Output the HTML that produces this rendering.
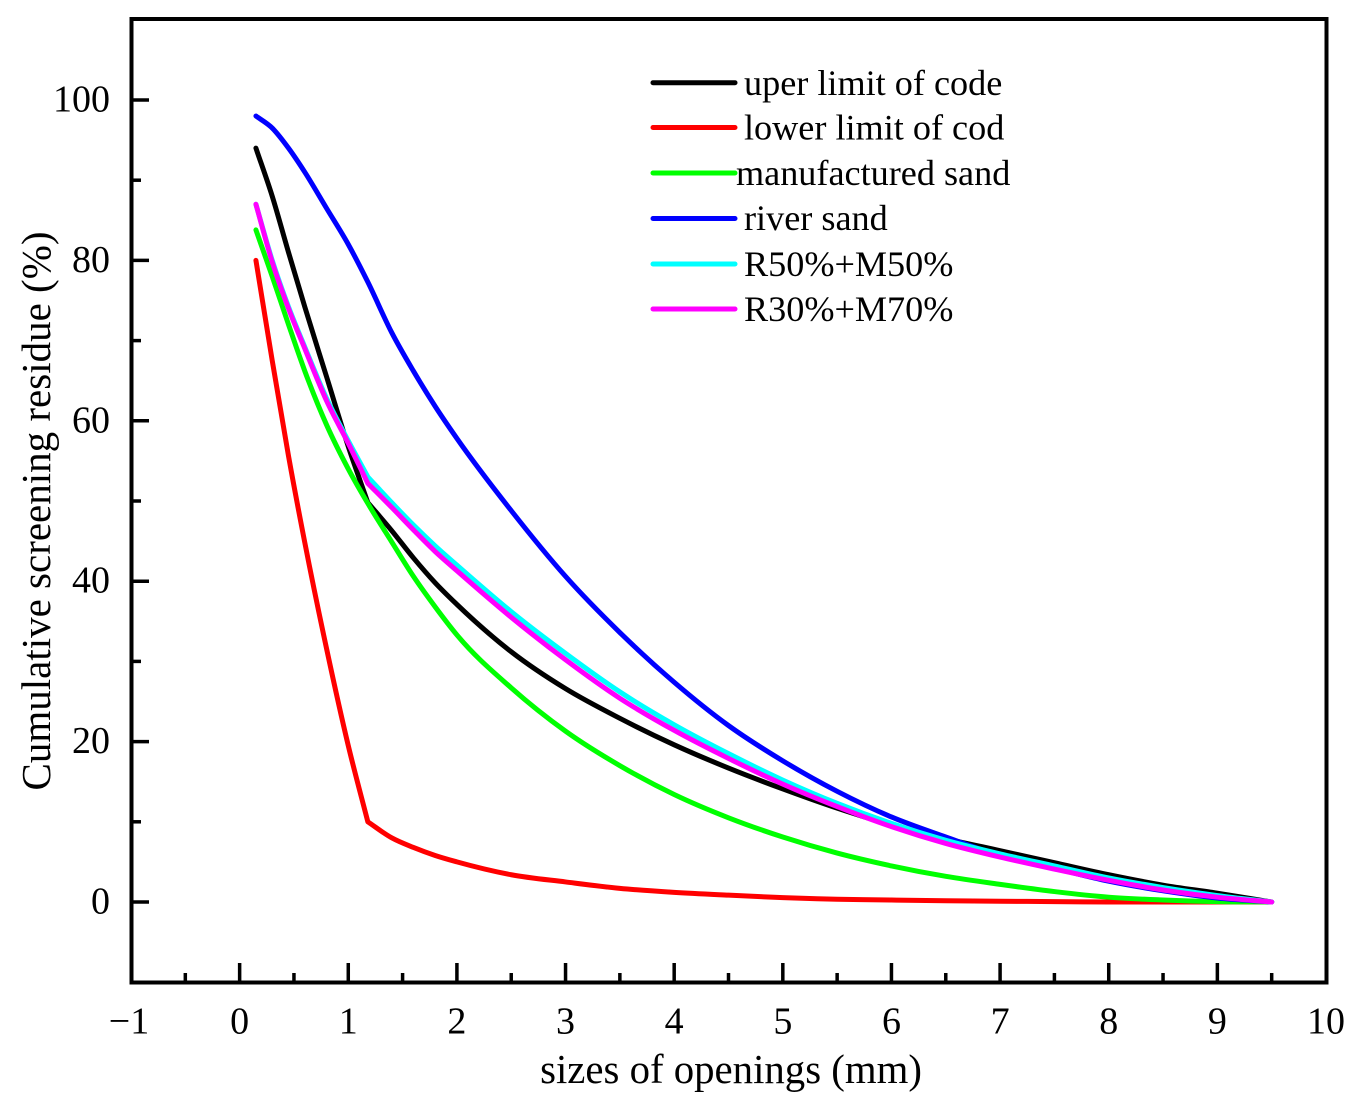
<!DOCTYPE html>
<html lang="en">
<head>
<meta charset="utf-8">
<title>Cumulative screening residue chart</title>
<style>
html,body{margin:0;padding:0;background:#fff;}
svg{display:block;}
text{font-family:"Liberation Serif",serif;fill:#000;}
</style>
</head>
<body>
<svg id="chart" xmlns="http://www.w3.org/2000/svg" width="1360" height="1109" viewBox="0 0 1360 1109">
<rect width="1360" height="1109" fill="#fff"/>
<g id="marks"></g>
<g id="axes"></g>
<g id="legend"></g>
<text x="731" y="1083" font-size="40.8" text-anchor="middle">sizes of openings (mm)</text>
<text transform="translate(50,511) rotate(-90)" font-size="41" text-anchor="middle">Cumulative screening residue (%)</text>
</svg>
<script>
var sizes = [0.15,0.3,0.45,0.6,0.8,1,1.18,1.4,1.6,1.8,2,2.5,3,3.5,4,4.5,5,5.5,6,6.5,7,7.5,8,8.5,9,9.5];
var upperLimit = [94,88,81,74.2,65.5,56.8,49.8,46.3,42.9,39.8,37.1,31.2,26.6,22.9,19.6,16.7,14.1,11.7,9.6,7.9,6.4,4.9,3.4,2.1,1.1,0];
var lowerLimit = [80,67.5,55.6,44.8,31.6,19.5,10,8,6.8,5.8,5,3.4,2.5,1.7,1.2,0.85,0.55,0.35,0.25,0.15,0.1,0.05,0,0,0,0];
var manufacturedSand = [83.8,78,72,66.2,59.5,54,49.7,44.9,40.6,36.8,33.3,26.7,21.3,17,13.4,10.5,8.1,6.1,4.5,3.2,2.2,1.3,0.6,0.25,0.05,0];
var riverSand = [98,96.5,94,91,86.5,82,77.3,71,66.2,61.8,57.8,48.8,40.6,33.6,27.4,22,17.6,13.8,10.6,8.1,5.8,4.2,2.6,1.4,0.5,0];
var r50m50 = [87,80,74.2,69.2,62.8,57.5,53,49.8,47,44.4,42,36.2,31,26.2,22.1,18.5,15.2,12.3,9.8,7.7,6,4.5,3,1.8,0.8,0];
var r30m70 = [87,79.8,74,69,62.5,57.2,52.2,49.2,46.4,43.7,41.3,35.5,30.2,25.4,21.4,17.9,14.7,11.9,9.4,7.3,5.6,4.1,2.7,1.5,0.6,0];
var seriesNames = ["uper limit of code","lower limit of cod","manufactured sand","river sand","R50%+M50%","R30%+M70%"];
var seriesColors = ["#000000","#ff0000","#00ff00","#0000ff","#00ffff","#ff00ff"];
var seriesSlugs = ["upper-limit","lower-limit","manufactured-sand","river-sand","r50-m50","r30-m70"];
var seriesValues = [upperLimit,lowerLimit,manufacturedSand,riverSand,r50m50,r30m70];
var kinkSize = [1.18,1.18,null,null,1.18,1.18];
var xTickValues = [-1,0,1,2,3,4,5,6,7,8,9,10];
var xMinorValues = [-0.5,0.5,1.5,2.5,3.5,4.5,5.5,6.5,7.5,8.5,9.5];
var yTickValues = [0,20,40,60,80,100];
var yMinorValues = [10,30,50,70,90];

var NS = "http://www.w3.org/2000/svg";
function xScale(v){ return 131 + (v + 1) * (1326 - 131) / 11; }
function yScale(v){ return 902 - v * 8.02; }
function make(tag, attrs, parent){
  var el = document.createElementNS(NS, tag);
  for (var k in attrs) el.setAttribute(k, attrs[k]);
  parent.appendChild(el);
  return el;
}
function smoothPath(xs, ys, kink){
  var n = xs.length, left = [], right = [];
  for (var i = 0; i < n; i++) {
    var sPrev = i > 0 ? (ys[i] - ys[i-1]) / (xs[i] - xs[i-1]) : null;
    var sNext = i < n - 1 ? (ys[i+1] - ys[i]) / (xs[i+1] - xs[i]) : null;
    if (sPrev === null) { left[i] = right[i] = sNext; continue; }
    if (sNext === null) { left[i] = right[i] = sPrev; continue; }
    if (kink !== null && xs[i] === kink) { left[i] = sPrev; right[i] = sNext; continue; }
    var h0 = xs[i] - xs[i-1], h1 = xs[i+1] - xs[i];
    var m = (sPrev * h1 + sNext * h0) / (h0 + h1);
    left[i] = right[i] = m;
  }
  var d = "M" + xScale(xs[0]).toFixed(2) + " " + yScale(ys[0]).toFixed(2);
  for (var j = 0; j < n - 1; j++) {
    var h = xs[j+1] - xs[j];
    d += " C" + xScale(xs[j] + h / 3).toFixed(2) + " " + yScale(ys[j] + right[j] * h / 3).toFixed(2) +
         " " + xScale(xs[j+1] - h / 3).toFixed(2) + " " + yScale(ys[j+1] - left[j+1] * h / 3).toFixed(2) +
         " " + xScale(xs[j+1]).toFixed(2) + " " + yScale(ys[j+1]).toFixed(2);
  }
  return d;
}

var marks = document.getElementById("marks");
seriesValues.forEach(function(vals, i){
  var line = make("path", {d: smoothPath(sizes, vals, kinkSize[i]), fill: "none", stroke: seriesColors[i], "stroke-width": 5, "stroke-linejoin": "round", "stroke-linecap": "round"}, marks);
  
  
});

var axes = document.getElementById("axes");
var frame = make("rect", {x: 131.5, y: 19, width: 1195, height: 963.5, fill: "none", stroke: "#000", "stroke-width": 4}, axes);



xTickValues.forEach(function(v){
  var x = xScale(v);
  if (v > -1 && v < 10) {
    var t = make("line", {x1: x, x2: x, y1: 963, y2: 983, stroke: "#000", "stroke-width": 3.5}, axes);
    
    
  }
  var lab = make("text", {x: v < 0 ? x - 2 : x, y: 1033.5, "font-size": 38, "text-anchor": "middle"}, axes);
  lab.textContent = v < 0 ? "\u2212" + Math.abs(v) : String(v);
  
  
});
xMinorValues.forEach(function(v){
  var x = xScale(v);
  var t = make("line", {x1: x, x2: x, y1: 973, y2: 983, stroke: "#000", "stroke-width": 3.5}, axes);
  
  
});
yTickValues.forEach(function(v){
  var y = yScale(v);
  var t = make("line", {x1: 131, x2: 149, y1: y, y2: y, stroke: "#000", "stroke-width": 3.5}, axes);
  
  
  var lab = make("text", {x: 110, y: y + 11.5, "font-size": 38, "text-anchor": "end"}, axes);
  lab.textContent = String(v);
  
  
});
yMinorValues.forEach(function(v){
  var y = yScale(v);
  var t = make("line", {x1: 131, x2: 141, y1: y, y2: y, stroke: "#000", "stroke-width": 3.5}, axes);
  
  
});

var legend = document.getElementById("legend");
var legendLineY = [82.7,127.5,173,218.5,264,309];
var legendTextY = [95,139.5,185,230,276,321];
var legendTextX = [744,744,736,744,744,744];
seriesNames.forEach(function(name, i){
  var l = make("line", {x1: 653, x2: 735, y1: legendLineY[i], y2: legendLineY[i], stroke: seriesColors[i], "stroke-width": 5, "stroke-linecap": "round"}, legend);
  
  
  var t = make("text", {x: legendTextX[i], y: legendTextY[i], "font-size": 36.2}, legend);
  t.textContent = name;
  
  
});
</script>
</body>
</html>
